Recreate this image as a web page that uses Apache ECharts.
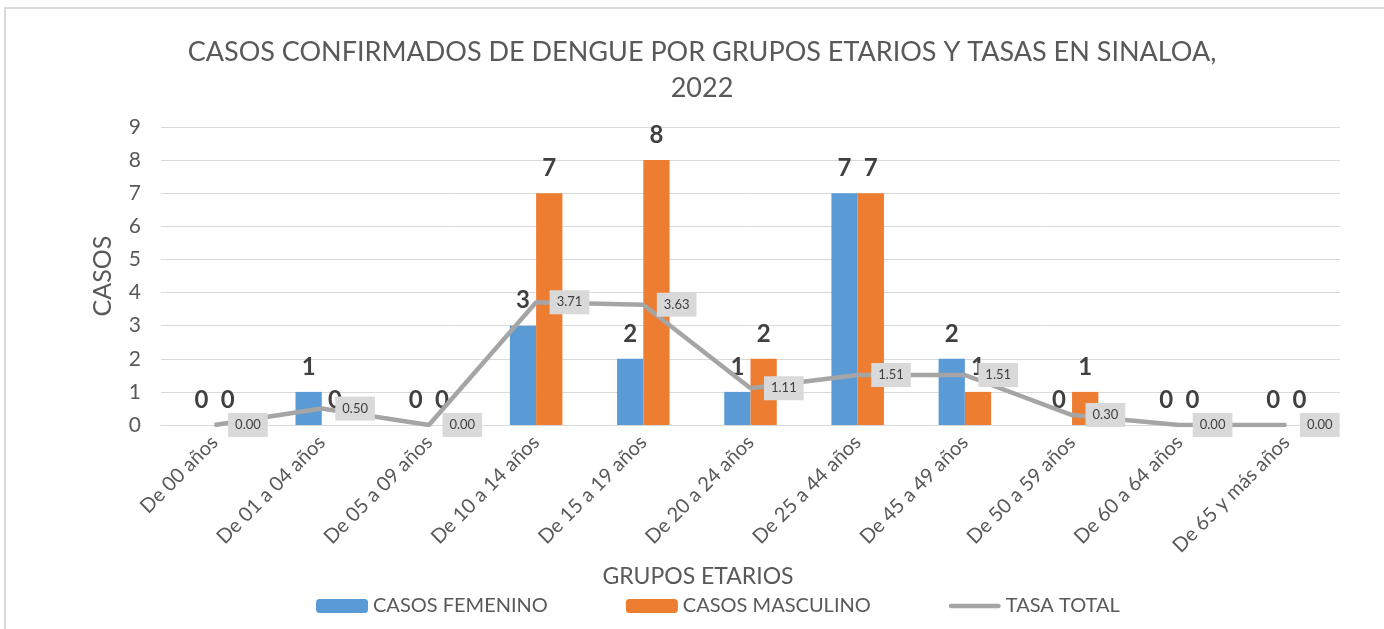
<!DOCTYPE html>
<html>
<head>
<meta charset="utf-8">
<script src="https://cdn.jsdelivr.net/npm/echarts@6/dist/echarts.min.js"></script>
<style>
html,body{margin:0;padding:0;background:#fff;}
#chart{width:1384px;height:629px;}
</style>
</head>
<body>
<div id="chart"></div>
<script>
const categories = ['De 00 años','De 01 a 04 años','De 05 a 09 años','De 10 a 14 años','De 15 a 19 años','De 20 a 24 años','De 25 a 44 años','De 45 a 49 años','De 50 a 59 años','De 60 a 64 años','De 65 y más años'];
const casosFemenino = [0,1,0,3,2,1,7,2,0,0,0];
const casosMasculino = [0,0,0,7,8,2,7,1,1,0,0];
const tasaTotal = [0.00,0.50,0.00,3.71,3.63,1.11,1.51,1.51,0.30,0.00,0.00];
const yTicks = [0,1,2,3,4,5,6,7,8,9];

const FONT = 'Lato, "Open Sans", sans-serif';
const chart = echarts.init(document.getElementById('chart'));
const barLabel = {
  show: true, position: 'top', distance: 13,
  fontSize: 24, fontWeight: 'bold', color: '#404040', fontFamily: FONT
};
chart.setOption({
  animation: false,
  textStyle: {fontFamily: FONT},
  graphic: [{
    type: 'rect', shape: {x: 5, y: 8, width: 1420, height: 700},
    style: {fill: 'none', stroke: '#D9D9D9', lineWidth: 2}, silent: true
  }, {
    type: 'text', x: 698, y: 577,
    style: {text: 'GRUPOS ETARIOS', fill: '#595959', fontSize: 23, fontFamily: FONT,
      textAlign: 'center', textVerticalAlign: 'middle'}, silent: true
  }],
  title: {
    text: 'CASOS CONFIRMADOS DE DENGUE POR GRUPOS ETARIOS Y TASAS EN SINALOA,\n2022',
    left: 697, top: 29, textAlign: 'center',
    textStyle: {fontSize: 27, fontWeight: 'normal', color: '#595959', lineHeight: 36, fontFamily: FONT}
  },
  legend: {
    top: 591, left: 311, itemGap: 78, itemWidth: 52, itemHeight: 14,
    symbolKeepAspect: true,
    textStyle: {fontSize: 20, color: '#595959', fontFamily: FONT},
    data: ['CASOS FEMENINO', 'CASOS MASCULINO',
      {name: 'TASA TOTAL', icon: 'path://M2.5,0h51a2.5,2.5,0,0,1,0,5h-51a2.5,2.5,0,0,1,0,-5z'}]
  },
  grid: {left: 161, right: 44, top: 127, bottom: 204},
  xAxis: {
    type: 'category', data: categories,
    axisLine: {show: true, lineStyle: {color: '#D9D9D9'}},
    axisTick: {show: false},
    axisLabel: {rotate: 45, fontSize: 20, color: '#595959', margin: 14, interval: 0, fontFamily: FONT}
  },
  yAxis: {
    type: 'value', min: yTicks[0], max: yTicks[yTicks.length - 1], interval: 1,
    name: 'CASOS', nameLocation: 'middle', nameGap: 46,
    nameTextStyle: {fontSize: 25, color: '#595959', fontFamily: FONT},
    axisLine: {show: false}, axisTick: {show: false},
    axisLabel: {fontSize: 21, color: '#595959', margin: 20, fontFamily: FONT},
    splitLine: {lineStyle: {color: '#D9D9D9', width: 1}}
  },
  series: [
    {name: 'CASOS FEMENINO', type: 'bar', data: casosFemenino, barGap: '0%', barCategoryGap: '51%',
     itemStyle: {color: '#5B9BD5'}, label: barLabel},
    {name: 'CASOS MASCULINO', type: 'bar', data: casosMasculino,
     itemStyle: {color: '#ED7D31'}, label: barLabel},
    {name: 'TASA TOTAL', type: 'line', data: tasaTotal, symbol: 'circle', symbolSize: 1, showSymbol: true, z: 5,
     lineStyle: {color: '#A5A5A5', width: 4.5}, itemStyle: {color: '#A5A5A5'},
     label: {show: true, position: 'right', distance: 13, formatter: p => p.value.toFixed(2),
       fontSize: 13, color: '#404040', backgroundColor: '#D9D9D9', padding: [6, 7, 5, 7], fontFamily: FONT}}
  ]
});
</script>
</body>
</html>
